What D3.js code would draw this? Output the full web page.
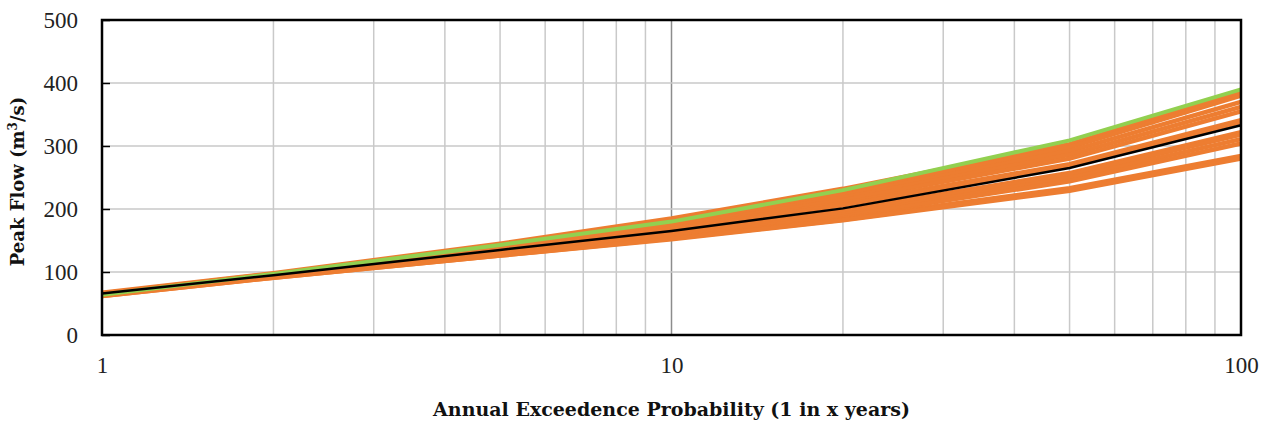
<!DOCTYPE html>
<html lang="en">
<head>
<meta charset="UTF-8">
<title>Peak Flow vs AEP</title>
<script src="https://d3js.org/d3.v7.min.js"></script>
<style>
    body { margin: 0; background: white; }
    svg { display: block; }
    .tick text { font-family: "Liberation Serif", serif; font-size: 23px; fill: #222; }
    .title { font-family: "DejaVu Serif", serif; font-weight: bold; fill: #111; }
</style>
</head>
<body>
<script>
// return periods (1 in x years)
const years = [1, 2, 5, 10, 20, 50, 100];
const xTicks = [1, 10, 100];
const yTicks = [0, 100, 200, 300, 400, 500];

// ensemble members (orange)
const ensemble = [
    [67, 98, 145, 185, 232, 303, 385],
    [66, 97, 143, 182, 227, 298, 380],
    [66, 96, 141, 178, 222, 292, 370],
    [65, 96, 140, 176, 218, 286, 362],
    [65, 95, 138, 173, 214, 280, 355],
    [66, 95, 137, 170, 209, 271, 341],
    [65, 94, 136, 168, 206, 268, 338],
    [64, 94, 133, 163, 198, 257, 322],
    [64, 93, 132, 161, 195, 254, 318],
    [63, 93, 130, 158, 191, 249, 311],
    [63, 92, 129, 156, 188, 244, 304],
    [63, 92, 127, 154, 185, 233, 284],
    [62, 91, 126, 153, 183, 231, 282],
    [62, 91, 126, 152, 182, 229, 280]
];
// upper (green) and median (black)
const upper = [64, 97, 143, 180, 230, 309, 390];
const median = [66, 95, 135, 165, 201, 265, 333];

const width = 1267, height = 423;
const m = {top: 20, right: 26, bottom: 88, left: 102};

const svg = d3.select("body").append("svg")
    .attr("width", width).attr("height", height);

const x = d3.scaleLog().domain([1, 100]).range([m.left, width - m.right]);
const y = d3.scaleLinear().domain([0, 500]).range([height - m.bottom, m.top]);

// minor + major vertical grid
const minor = [];
[1, 10].forEach(d => { for (let k = 2; k <= 9; k++) minor.push(d * k); });
svg.append("g").selectAll("line").data(minor).enter().append("line")
    .attr("x1", d => x(d)).attr("x2", d => x(d))
    .attr("y1", y(0)).attr("y2", y(500))
    .attr("stroke", "#c9c9c9").attr("stroke-width", 1.5);
svg.append("line")
    .attr("x1", x(10)).attr("x2", x(10)).attr("y1", y(0)).attr("y2", y(500))
    .attr("stroke", "#8c8c8c").attr("stroke-width", 1.5);

// horizontal grid
svg.append("g").selectAll("line").data(yTicks.slice(1, -1)).enter().append("line")
    .attr("x1", x(1)).attr("x2", x(100))
    .attr("y1", d => y(d)).attr("y2", d => y(d))
    .attr("stroke", "#c9c9c9").attr("stroke-width", 1.5);

// axes
const yAxis = svg.append("g")
    .attr("transform", `translate(${m.left},0)`)
    .call(d3.axisLeft(y).tickValues(yTicks).tickSize(-8).tickPadding(24));
yAxis.select(".domain").remove();
yAxis.selectAll(".tick line").attr("stroke", "#000").attr("stroke-width", 1.5);
yAxis.selectAll(".tick text").attr("dy", "0.34em");

const xAxis = svg.append("g")
    .attr("transform", `translate(0,${y(0)})`)
    .call(d3.axisBottom(x).tickValues(xTicks).tickFormat(d3.format("d")).tickSize(0).tickPadding(22));
xAxis.select(".domain").remove();

// lines
const line = d3.line().x((d, i) => x(years[i])).y(d => y(d));

svg.append("g").selectAll("path").data(ensemble).enter().append("path")
    .attr("d", line)
    .attr("fill", "none").attr("stroke", "#ED7D31").attr("stroke-width", 4.5);

svg.append("path").datum(upper).attr("d", line)
    .attr("fill", "none").attr("stroke", "#92D050").attr("stroke-width", 4);

svg.append("path").datum(median).attr("d", line)
    .attr("fill", "none").attr("stroke", "#000").attr("stroke-width", 2.5);

// frame
svg.append("rect")
    .attr("x", x(1)).attr("y", y(500))
    .attr("width", x(100) - x(1)).attr("height", y(0) - y(500))
    .attr("fill", "none").attr("stroke", "#000").attr("stroke-width", 2.5);

// titles
svg.append("text").attr("class", "title")
    .attr("x", (x(1) + x(100)) / 2).attr("y", 416)
    .attr("text-anchor", "middle")
    .attr("font-size", 19)
    .text("Annual Exceedence Probability (1 in x years)");

svg.append("text").attr("class", "title")
    .attr("transform", `translate(24,${(y(0) + y(500)) / 2 + 4}) rotate(-90)`)
    .attr("text-anchor", "middle")
    .attr("font-size", 18)
    .html("Peak Flow (m<tspan baseline-shift='super' font-size='12'>3</tspan>/s)");
</script>
</body>
</html>
